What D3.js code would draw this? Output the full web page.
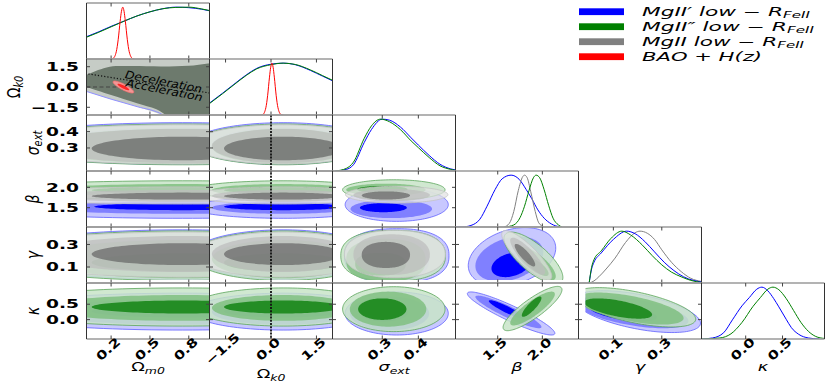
<!DOCTYPE html>
<html>
<head>
<meta charset="utf-8">
<script src="https://cdn.jsdelivr.net/npm/d3@7"></script>
<style>
  body { margin: 0; background: #fff; }
  svg text { font-family: "DejaVu Sans", sans-serif; fill: #000; }
</style>
</head>
<body>
<svg id="chart" width="831" height="382"></svg>
<script>
// parameters, in triangle order
const paramSymbols = ["Ω", "Ω", "σ", "β", "γ", "κ"];
const paramSubs = ["m0", "k0", "ext", "", "", ""];
const xDomains = [[0.01, 0.96], [-2.03, 2.03], [0.162, 0.503], [1.027, 2.405], [-0.044, 0.464], [-0.6, 1.07]];
const yDomains = [[0.01, 0.96], [-2.07, 2.07], [0.159, 0.502], [1.027, 2.4], [-0.042, 0.455], [-0.63, 1.19]];
const tickValues = [[0.2, 0.5, 0.8], [-1.5, 0, 1.5], [0.3, 0.4], [1.5, 2.0], [0.1, 0.3], [0.0, 0.5]];
const tickLabels = [["0.2", "0.5", "0.8"], ["−1.5", "0.0", "1.5"], ["0.3", "0.4"], ["1.5", "2.0"], ["0.1", "0.3"], ["0.0", "0.5"]];
const gammaCut = -0.015; // edge of the γ >= 0 prior as drawn

// legend (sets: 0 MgII', 1 MgII'', 2 MgII, 3 BAO+H(z))
const legendNames = ["MgII′ low − R", "MgII″ low − R", "MgII low − R", "BAO + H(z)"];
const legendSubs = ["FeII", "FeII", "FeII", ""];

// 1D marginals, [value, relative density]
const pdfOm = [
  { set: 0, pts: [[0.01, .43], [0.1, .52], [0.2, .63], [0.3, .73], [0.4, .83], [0.5, .91], [0.6, .97], [0.7, 1], [0.8, .99], [0.9, .96], [0.96, .93]] },
  { set: 1, pts: [[0.01, .42], [0.1, .51], [0.2, .62], [0.3, .73], [0.4, .83], [0.5, .91], [0.6, .97], [0.7, .995], [0.8, 1], [0.9, .965], [0.96, .935]] },
  { set: 3, pts: [[0.2, 0], [0.215, .01], [0.24, .14], [0.255, .38], [0.27, .73], [0.28, .92], [0.29, 1], [0.3, .92], [0.31, .73], [0.325, .38], [0.34, .14], [0.365, .01], [0.38, 0]] }
];
const pdfOk = [
  { set: 0, pts: [[-2.03, .23], [-1.6, .42], [-1.25, .58], [-0.8, .78], [-0.47, .9], [0, .98], [0.4, 1], [0.8, .97], [1.3, .86], [1.7, .75], [2.03, .66]] },
  { set: 1, pts: [[-2.03, .22], [-1.6, .41], [-1.25, .57], [-0.8, .77], [-0.47, .89], [0, .97], [0.4, 1], [0.8, .975], [1.3, .87], [1.7, .76], [2.03, .67]] },
  { set: 3, pts: [[-0.35, 0], [-0.27, .01], [-0.17, .14], [-0.11, .38], [-0.05, .73], [-0.01, .92], [0.03, 1], [0.07, .92], [0.11, .73], [0.17, .38], [0.23, .14], [0.33, .01], [0.41, 0]] }
];
const pdfSig = [
  { set: 0, pts: [[0.17, 0], [0.2, .03], [0.22, .12], [0.25, .55], [0.27, .8], [0.3, 1], [0.32, .98], [0.35, .85], [0.38, .64], [0.4, .5], [0.43, .3], [0.46, .13], [0.49, .04], [0.503, .02]] },
  { set: 1, pts: [[0.17, 0], [0.2, .05], [0.22, .17], [0.25, .63], [0.27, .87], [0.295, 1], [0.32, .95], [0.35, .8], [0.38, .58], [0.4, .45], [0.43, .26], [0.46, .1], [0.49, .03], [0.503, .01]] }
];
const pdfBeta = [
  { set: 0, pts: [[1.03, 0], [1.1, 0], [1.2, .03], [1.3, .15], [1.38, .4], [1.47, .72], [1.55, .93], [1.65, 1], [1.74, .92], [1.82, .72], [1.88, .55], [1.95, .33], [2.02, .17], [2.1, .06], [2.2, 0]] },
  { set: 2, pts: [[1.57, 0], [1.63, .07], [1.68, .3], [1.73, .7], [1.78, .97], [1.8, 1], [1.83, .95], [1.87, .68], [1.92, .3], [1.96, .08], [2.02, 0]] },
  { set: 1, pts: [[1.58, 0], [1.68, .04], [1.75, .18], [1.8, .4], [1.85, .7], [1.9, .95], [1.93, 1], [1.97, .95], [2.02, .72], [2.07, .42], [2.12, .17], [2.18, .04], [2.22, 0]] }
];
const pdfGam = [
  { set: 2, pts: [[0.0, 0], [0.02, .04], [0.04, .12], [0.07, .27], [0.107, .48], [0.15, .78], [0.19, .97], [0.21, 1], [0.24, .96], [0.27, .84], [0.3, .64], [0.34, .4], [0.38, .22], [0.42, .09], [0.464, .03]] },
  { set: 0, pts: [[0.0, 0], [0.01, .27], [0.02, .4], [0.05, .58], [0.1, .84], [0.155, 1], [0.19, .95], [0.23, .8], [0.27, .6], [0.31, .4], [0.35, .24], [0.39, .12], [0.43, .05], [0.464, .02]] },
  { set: 1, pts: [[0.0, 0], [0.01, .3], [0.02, .45], [0.05, .62], [0.09, .86], [0.135, 1], [0.17, .93], [0.22, .73], [0.26, .53], [0.3, .35], [0.34, .21], [0.38, .12], [0.42, .05], [0.464, .01]] }
];
const pdfKap = [
  { set: 0, pts: [[-0.6, 0], [-0.45, .02], [-0.3, .12], [-0.18, .37], [-0.05, .64], [0.05, .8], [0.15, .96], [0.22, 1], [0.3, .93], [0.38, .78], [0.45, .62], [0.55, .38], [0.62, .22], [0.72, .09], [0.85, .02], [1.0, 0]] },
  { set: 1, pts: [[-0.6, 0], [-0.35, .02], [-0.2, .1], [-0.05, .32], [0.1, .63], [0.2, .8], [0.3, .96], [0.37, 1], [0.45, .95], [0.55, .78], [0.65, .55], [0.75, .32], [0.85, .15], [0.95, .05], [1.07, .01]] }
];
const pdfList = [pdfOm, pdfOk, pdfSig, pdfBeta, pdfGam, pdfKap];

// 2D contours: column, set, correlation, shape exponent, levels inner -> outer [cx, cy, rx, ry]
const contoursOk = [
  { c: 0, s: 3, rho: -0.85, n: 2, lv: [[0.295, 0.0, 0.045, 0.24], [0.295, 0.0, 0.08, 0.44]] }
];
const contoursSig = [
  { c: 0, s: 0, rho: 0, n: 2, lv: [[0.75, 0.30, 0.70, 0.072], [0.75, 0.315, 1.1, 0.11], [0.75, 0.327, 1.5, 0.128]] },
  { c: 0, s: 1, rho: 0, n: 2, lv: [[0.75, 0.295, 0.70, 0.072], [0.75, 0.31, 1.1, 0.108], [0.75, 0.322, 1.5, 0.125]] },
  { c: 0, s: 2, rho: 0, n: 2, lv: [[0.75, 0.297, 0.70, 0.072], [0.75, 0.312, 1.1, 0.105], [0.75, 0.322, 1.5, 0.12]] },
  { c: 1, s: 0, rho: 0, n: 2, lv: [[0.4, 0.30, 1.95, 0.072], [0.4, 0.315, 2.35, 0.11], [0.4, 0.327, 3.0, 0.128]] },
  { c: 1, s: 1, rho: 0, n: 2, lv: [[0.4, 0.295, 1.95, 0.072], [0.4, 0.31, 2.35, 0.108], [0.4, 0.322, 3.0, 0.125]] },
  { c: 1, s: 2, rho: 0, n: 2, lv: [[0.4, 0.297, 1.95, 0.072], [0.4, 0.312, 2.35, 0.105], [0.4, 0.322, 3.0, 0.12]] }
];
const contoursBeta = [
  { c: 0, s: 0, rho: 0, n: 2, lv: [[0.75, 1.525, 0.68, 0.085], [0.75, 1.5, 1.1, 0.15], [0.75, 1.5, 1.5, 0.26]] },
  { c: 0, s: 1, rho: 0, n: 2, lv: [[0.75, 1.93, 0.70, 0.08], [0.75, 1.93, 1.1, 0.15], [0.75, 1.93, 1.5, 0.23]] },
  { c: 0, s: 2, rho: 0, n: 2, lv: [[0.75, 1.785, 0.70, 0.085], [0.75, 1.79, 1.1, 0.145], [0.75, 1.8, 1.5, 0.21]] },
  { c: 1, s: 0, rho: 0, n: 2, lv: [[0.4, 1.525, 1.95, 0.085], [0.4, 1.5, 2.35, 0.15], [0.4, 1.5, 3.0, 0.26]] },
  { c: 1, s: 1, rho: 0, n: 2, lv: [[0.4, 1.93, 1.95, 0.08], [0.4, 1.93, 2.35, 0.15], [0.4, 1.93, 3.0, 0.23]] },
  { c: 1, s: 2, rho: 0, n: 2, lv: [[0.4, 1.785, 1.95, 0.085], [0.4, 1.79, 2.35, 0.145], [0.4, 1.8, 3.0, 0.21]] },
  { c: 2, s: 0, rho: 0, n: 2, lv: [[0.303, 1.5, 0.065, 0.11], [0.325, 1.47, 0.113, 0.225], [0.34, 1.575, 0.143, 0.41]] },
  { c: 2, s: 1, rho: 0, n: 2, lv: [[0.30, 1.95, 0.07, 0.085], [0.31, 1.94, 0.11, 0.15], [0.332, 1.94, 0.142, 0.245]] },
  { c: 2, s: 2, rho: 0, n: 2, lv: [[0.31, 1.80, 0.067, 0.10], [0.326, 1.81, 0.106, 0.15], [0.34, 1.82, 0.142, 0.205]] }
];
const contoursGam = [
  { c: 0, s: 0, rho: 0, n: 2, lv: [[0.75, 0.15, 0.70, 0.085], [0.75, 0.18, 1.1, 0.17], [0.75, 0.21, 1.5, 0.22]] },
  { c: 0, s: 1, rho: 0, n: 2, lv: [[0.75, 0.14, 0.70, 0.08], [0.75, 0.17, 1.1, 0.17], [0.75, 0.2, 1.5, 0.22]] },
  { c: 0, s: 2, rho: 0, n: 2, lv: [[0.75, 0.214, 0.70, 0.097], [0.75, 0.215, 1.1, 0.16], [0.75, 0.21, 1.5, 0.2]] },
  { c: 1, s: 0, rho: 0, n: 2, lv: [[0.4, 0.15, 1.95, 0.085], [0.4, 0.18, 2.35, 0.17], [0.4, 0.21, 3.0, 0.22]] },
  { c: 1, s: 1, rho: 0, n: 2, lv: [[0.4, 0.14, 1.95, 0.08], [0.4, 0.17, 2.35, 0.17], [0.4, 0.2, 3.0, 0.22]] },
  { c: 1, s: 2, rho: 0, n: 2, lv: [[0.4, 0.214, 1.95, 0.097], [0.4, 0.215, 2.35, 0.16], [0.4, 0.21, 3.0, 0.2]] },
  { c: 2, s: 0, rho: 0, n: 2.4, lv: [[0.305, 0.14, 0.07, 0.11], [0.32, 0.17, 0.11, 0.2], [0.34, 0.2, 0.145, 0.24]] },
  { c: 2, s: 1, rho: 0, n: 2.4, lv: [[0.295, 0.125, 0.07, 0.1], [0.31, 0.16, 0.11, 0.19], [0.33, 0.2, 0.145, 0.225]] },
  { c: 2, s: 2, rho: 0, n: 2.2, lv: [[0.31, 0.207, 0.067, 0.116], [0.326, 0.21, 0.106, 0.18], [0.335, 0.215, 0.14, 0.21]] },
  { c: 3, s: 0, rho: 0.3, n: 2, lv: [[1.65, 0.12, 0.22, 0.11], [1.63, 0.17, 0.38, 0.2], [1.66, 0.19, 0.49, 0.26]] },
  { c: 3, s: 1, rho: -0.75, n: 2, lv: [[1.95, 0.1, 0.12, 0.08], [1.93, 0.13, 0.22, 0.15], [1.9, 0.18, 0.33, 0.23]] },
  { c: 3, s: 2, rho: -0.85, n: 2, lv: [[1.805, 0.205, 0.115, 0.1], [1.835, 0.195, 0.195, 0.165], [1.825, 0.204, 0.28, 0.22]] }
];
const contoursKap = [
  { c: 0, s: 0, rho: 0, n: 2, lv: [[0.75, 0.27, 0.70, 0.2], [0.75, 0.25, 1.1, 0.42], [0.75, 0.26, 1.5, 0.6]] },
  { c: 0, s: 1, rho: 0, n: 2, lv: [[0.75, 0.41, 0.70, 0.21], [0.75, 0.38, 1.1, 0.42], [0.75, 0.41, 1.5, 0.62]] },
  { c: 1, s: 0, rho: 0, n: 2, lv: [[0.4, 0.27, 1.95, 0.2], [0.4, 0.25, 2.35, 0.42], [0.4, 0.26, 3.0, 0.6]] },
  { c: 1, s: 1, rho: 0, n: 2, lv: [[0.4, 0.41, 1.95, 0.21], [0.4, 0.38, 2.35, 0.42], [0.4, 0.41, 3.0, 0.62]] },
  { c: 2, s: 0, rho: 0, n: 2, lv: [[0.305, 0.22, 0.065, 0.28], [0.32, 0.2, 0.11, 0.55], [0.34, 0.2, 0.143, 0.7]] },
  { c: 2, s: 1, rho: 0, n: 2, lv: [[0.30, 0.34, 0.067, 0.35], [0.316, 0.34, 0.106, 0.57], [0.332, 0.34, 0.142, 0.73]] },
  { c: 3, s: 0, rho: -0.92, n: 2, lv: [[1.6, 0.33, 0.2, 0.3], [1.62, 0.25, 0.37, 0.53], [1.65, 0.2, 0.49, 0.7]] },
  { c: 3, s: 1, rho: 0.85, n: 2, lv: [[1.88, 0.42, 0.11, 0.33], [1.89, 0.36, 0.25, 0.55], [1.89, 0.36, 0.33, 0.72]] },
  { c: 4, s: 0, rho: -0.55, n: 2, lv: [[0.14, 0.24, 0.14, 0.3], [0.18, 0.24, 0.23, 0.52], [0.2, 0.26, 0.26, 0.68]] },
  { c: 4, s: 1, rho: -0.6, n: 2, lv: [[0.12, 0.36, 0.14, 0.33], [0.17, 0.36, 0.22, 0.52], [0.19, 0.4, 0.25, 0.64]] }
];
const contourRows = [[], contoursOk, contoursSig, contoursBeta, contoursGam, contoursKap];

// Ωm0–Ωk0: the three MgII sets overlap into one band
const okEdge = [[-0.1, -0.1], [0.0, -0.3], [0.2, -0.9], [0.4, -1.45], [0.6, -2.07], [0.63, -2.3]];
const okCore = [[-0.05, 0.75], [0.01, 0.9], [0.1, 1.25], [0.19, 1.5], [0.35, 1.55], [0.6, 1.52], [0.8, 1.58], [1.1, 1.55],
  [1.1, -2.3], [0.68, -2.3], [0.55, -1.65], [0.4, -1.2], [0.2, -0.6], [0.01, 0.0], [-0.05, 0.15]];
const decelLine = [[0.0, 1.0], [0.96, -0.44]];
const flatLine = [[0.01, 0], [0.24, 0]];
const okNotes = [["Deceleration", 0.605, 0.37], ["Acceleration", 0.61, -0.25]];

// ---------------------------------------------------------------
const svg = d3.select("#chart");
const x0 = 86.5, y0 = 3, cw = 123, ch = 56;
const sx = 1.55; // horizontal stretch of the text

const xs = xDomains.map((d, i) => d3.scaleLinear().domain(d).range([x0 + i * cw, x0 + (i + 1) * cw]));
const ys = yDomains.map((d, j) => d3.scaleLinear().domain(d).range([y0 + (j + 1) * ch, y0 + j * ch]));

const fillCols = [["#0000ff", "#8080ff", "#c8c8ff"], ["#138413", "#80c080", "#c8e4c8"], ["#666666", "#bdbdbd", "#e2e2e2"], ["#ff1a1a", "#ff9a9a"]];
const fillOp = [1, 0.85, 0.72, 0.9];
const lineCols = ["#0000ff", "#008000", "#808080", "#ff0000"];
const edgeCols = ["#6060ff", "#5aa55a", "#c4c4c4", "#ff7070"];

const defs = svg.append("defs");
function clipFor(i, j) {
  const id = "clip-" + i + "-" + j;
  let xa = x0 + i * cw, xb = xa + cw, ya = y0 + j * ch, yb = ya + ch;
  if (i === 4 && j !== 4) xa = Math.max(xa, xs[4](gammaCut));
  if (j === 4 && i !== 4) yb = Math.min(yb, ys[4](gammaCut));
  defs.append("clipPath").attr("id", id)
    .append("rect").attr("x", xa).attr("y", ya).attr("width", xb - xa).attr("height", yb - ya);
  return "url(#" + id + ")";
}

// correlated (super)ellipse outline in data units
function blob(l, rho, n) {
  const k = Math.sqrt(1 - rho * rho), e = 2 / n;
  return d3.range(120).map(q => {
    const t = q / 120 * 2 * Math.PI;
    const c = Math.cos(t), s = Math.sin(t);
    const u = Math.sign(c) * Math.pow(Math.abs(c), e);
    const w = Math.sign(s) * Math.pow(Math.abs(s), e);
    return [l[0] + l[2] * u, l[1] + l[3] * (rho * u + k * w)];
  });
}

for (let j = 0; j < 6; j++) {
  for (let i = 0; i <= j; i++) {
    const g = svg.append("g").attr("clip-path", clipFor(i, j));
    const X = xs[i];
    if (i === j) {
      const Y = d3.scaleLinear().domain([0, 1.08]).range([y0 + (j + 1) * ch, y0 + j * ch]);
      const line = d3.line().x(d => X(d[0])).y(d => Y(d[1])).curve(d3.curveMonotoneX);
      pdfList[i].forEach(p => {
        g.append("path").attr("d", line(p.pts))
          .attr("fill", "none").attr("stroke", lineCols[p.set]).attr("stroke-width", 1);
      });
      continue;
    }
    const Y = ys[j];
    const poly = d3.line().x(d => X(d[0])).y(d => Y(d[1]));
    if (j === 1 && i === 0) {
      const outer = [[-0.1, 2.3], [1.1, 2.3], [1.1, -2.3]].concat(okEdge.slice().reverse());
      g.append("path").attr("d", poly(outer) + "Z").attr("fill", "#c6ccc6");
      g.append("path").attr("d", poly.curve(d3.curveCatmullRomClosed)(okCore)).attr("fill", "#6d7a6d");
      g.append("path").attr("d", poly.curve(d3.curveMonotoneX)(okEdge.slice(1)))
        .attr("fill", "none").attr("stroke", "#8f8fff").attr("stroke-width", 1);
      poly.curve(d3.curveLinear);
    }
    const closed = d3.line().x(d => X(d[0])).y(d => Y(d[1])).curve(d3.curveLinearClosed);
    contourRows[j].filter(c => c.c === i).forEach(c => {
      for (let k = c.lv.length - 1; k >= 0; k--) {
        const p = g.append("path").attr("d", closed(blob(c.lv[k], c.rho, c.n)))
          .attr("fill", fillCols[c.s][k]).attr("fill-opacity", fillOp[c.s]);
        if (k === c.lv.length - 1) p.attr("stroke", edgeCols[c.s]).attr("stroke-width", 0.8);
      }
    });
    if (j === 1 && i === 0) {
      g.append("path").attr("d", poly(decelLine)).attr("stroke", "#111").attr("stroke-width", 1.2)
        .attr("stroke-dasharray", "1.2,2").attr("fill", "none");
      g.append("path").attr("d", poly(flatLine)).attr("stroke", "#444").attr("stroke-width", 1)
        .attr("stroke-dasharray", "4,2.5").attr("fill", "none");
      okNotes.forEach(t => {
        g.append("text").attr("transform", "translate(" + X(t[1]) + "," + Y(t[2]) + ") rotate(11)")
          .attr("text-anchor", "middle").attr("dominant-baseline", "central")
          .attr("font-size", 11).attr("font-style", "italic")
          .attr("textLength", 78).attr("lengthAdjust", "spacingAndGlyphs").text(t[0]);
      });
    }
  }
}

// Ωk0 = 0 reference in the Ωk0 column
svg.append("line").attr("x1", xs[1](0)).attr("x2", xs[1](0))
  .attr("y1", y0 + 2 * ch).attr("y2", y0 + 6 * ch)
  .attr("stroke", "#111").attr("stroke-width", 1.8).attr("stroke-dasharray", "2,1.2");

// frames and ticks
for (let j = 0; j < 6; j++) {
  for (let i = 0; i <= j; i++) {
    const xa = x0 + i * cw, xb = xa + cw, ya = y0 + j * ch, yb = ya + ch;
    const f = svg.append("g");
    f.append("line").attr("x1", xa).attr("x2", xb).attr("y1", ya).attr("y2", ya).attr("stroke", "#9a9a9a").attr("stroke-width", 1.4);
    f.append("line").attr("x1", xa).attr("x2", xb).attr("y1", yb).attr("y2", yb).attr("stroke", "#9a9a9a").attr("stroke-width", 1.4);
    f.append("line").attr("x1", xa).attr("x2", xa).attr("y1", ya).attr("y2", yb).attr("stroke", "#333").attr("stroke-width", 1);
    f.append("line").attr("x1", xb).attr("x2", xb).attr("y1", ya).attr("y2", yb).attr("stroke", "#333").attr("stroke-width", 1);
    tickValues[i].forEach(v => {
      const x = xs[i](v);
      f.append("line").attr("x1", x).attr("x2", x).attr("y1", ya).attr("y2", ya + 3.5).attr("stroke", "#444");
      f.append("line").attr("x1", x).attr("x2", x).attr("y1", yb - 3.5).attr("y2", yb).attr("stroke", "#444");
    });
    if (i !== j) {
      tickValues[j].forEach(v => {
        const y = ys[j](v);
        f.append("line").attr("x1", xa).attr("x2", xa + 3.5).attr("y1", y).attr("y2", y).attr("stroke", "#444");
        f.append("line").attr("x1", xb - 3.5).attr("x2", xb).attr("y1", y).attr("y2", y).attr("stroke", "#444");
      });
    }
  }
}

function mathLabel(sel, k, size) {
  sel.append("tspan").text(paramSymbols[k]).attr("font-style", paramSymbols[k] === "Ω" ? "normal" : "italic");
  if (paramSubs[k]) sel.append("tspan").text(paramSubs[k]).attr("font-size", size * 0.7)
    .attr("dy", size * 0.3).attr("font-style", "italic");
}

// y tick labels and y labels (rows 1..5)
for (let j = 1; j < 6; j++) {
  tickValues[j].forEach((v, q) => {
    svg.append("text").attr("transform", "translate(79," + ys[j](v) + ") scale(" + sx + ",1)")
      .attr("text-anchor", "end").attr("dominant-baseline", "central").attr("font-size", 12)
      .attr("font-weight", "bold").text(tickLabels[j][q]);
  });
  const lx = j === 1 ? 13 : 32;
  const t = svg.append("text").attr("transform", "translate(" + lx + "," + (y0 + (j + 0.5) * ch) + ") scale(1.3,1) rotate(-90)")
    .attr("text-anchor", "middle").attr("dominant-baseline", "central").attr("font-size", 14);
  mathLabel(t, j, 14);
}

// x tick labels and x labels
for (let i = 0; i < 6; i++) {
  tickValues[i].forEach((v, q) => {
    svg.append("text").attr("transform", "translate(" + (xs[i](v) - 3) + ",349) rotate(-42) scale(1.3,1)")
      .attr("text-anchor", "middle").attr("dominant-baseline", "central").attr("font-size", 12)
      .attr("font-weight", "bold").text(tickLabels[i][q]);
  });
  const ly = i === 1 ? 378 : 371;
  const t = svg.append("text").attr("transform", "translate(" + (x0 + (i + 0.5) * cw) + "," + ly + ") scale(" + sx + ",1)")
    .attr("text-anchor", "middle").attr("font-size", 11.5);
  mathLabel(t, i, 11.5);
}

// legend
const legendWidths = [168, 172, 162, 120];
legendNames.forEach((name, k) => {
  const yc = 11.7 + k * 15;
  svg.append("rect").attr("x", 579).attr("y", yc - 3.4).attr("width", 45).attr("height", 6.8).attr("fill", lineCols[k]);
  const t = svg.append("text").attr("x", 642).attr("y", yc + 4).attr("font-size", 11.5).attr("font-style", "italic")
    .attr("textLength", legendWidths[k]).attr("lengthAdjust", "spacingAndGlyphs");
  t.append("tspan").text(name);
  if (legendSubs[k]) t.append("tspan").text(legendSubs[k]).attr("font-size", 8).attr("dy", 2.5);
});
</script>
</body>
</html>
